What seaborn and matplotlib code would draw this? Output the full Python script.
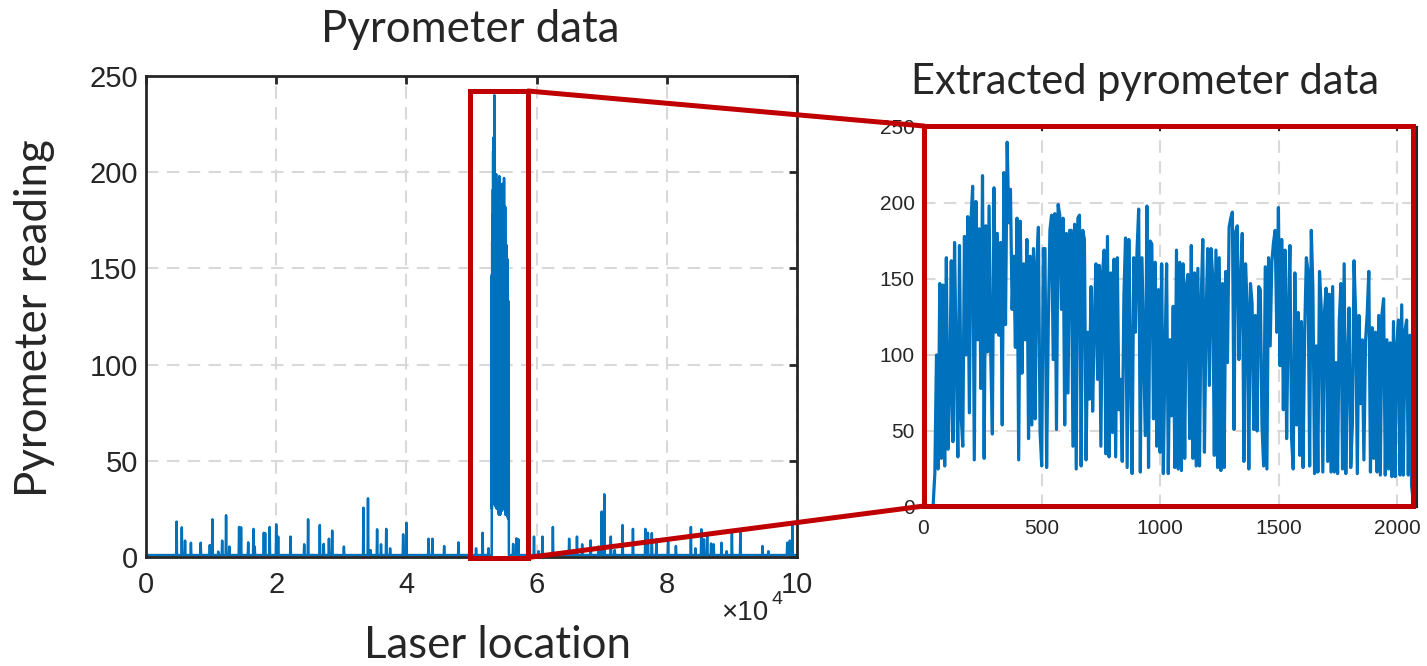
import numpy as np
import pandas as pd
import seaborn as sns
import matplotlib
matplotlib.use("Agg")
import matplotlib.pyplot as plt
from matplotlib.patches import Rectangle
from matplotlib.lines import Line2D

# ---------------- data ----------------
# isolated pyrometer spikes outside the melt region (laser location, reading)
spike_pos = [4700, 5500, 6000, 6900, 8400, 9800, 10200, 11100, 11700, 12300, 12800,
             14300, 14600, 15700, 16500, 16700, 18100, 18300, 19000, 20000, 20300,
             22200, 24300, 24900, 26700, 27300, 28100, 28600, 30400, 33400, 34100,
             34500, 35500, 36100, 36900, 37500, 39500, 40000, 43400, 44000, 45800,
             48000, 50700, 51700, 52600, 56400, 56900, 57200, 59600, 60300, 60900,
             62500, 65000, 66200, 67000, 68300, 69500, 70000, 70400, 71400, 72000,
             73200, 74800, 76700, 77100, 77700, 78400, 80200, 81400, 83700, 84400,
             85300, 85700, 86200, 86800, 87200, 88400, 89200, 90000, 91300, 94700,
             95600, 98500, 98900, 99300]
spike_val = [18.4, 15.4, 8.5, 7.4, 7.4, 6.2, 19.6, 2.8, 8.5, 21.7, 5.4,
             15.6, 15.4, 7.6, 14.6, 5.4, 12.6, 12.4, 15.6, 17.0, 10.6,
             10.6, 6.6, 19.6, 16.6, 6.8, 9.5, 13.7, 5.4, 25.6, 30.5,
             3.6, 14.4, 6.6, 14.6, 4.5, 11.8, 17.8, 9.5, 9.5, 5.7,
             7.6, 4.5, 12.6, 4.5, 6.8, 9.7, 9.2, 10.6, 3.0, 10.6,
             15.6, 9.5, 10.6, 6.6, 8.6, 5.4, 23.6, 32.6, 10.6, 3.6,
             16.6, 14.6, 14.6, 12.6, 12.4, 9.2, 8.0, 5.7, 15.6, 4.5,
             14.4, 9.2, 12.4, 7.0, 6.6, 7.4, 3.0, 12.4, 12.8, 5.7,
             3.0, 7.4, 8.5, 16.6]
baseline_val = 1.0

# extracted melt-region readings
extracted_val = [
    2, 22, 100, 25, 147, 32, 146, 27, 164, 38, 73, 162, 43, 174, 95, 33, 172, 60, 40, 178,
    100, 191, 62, 189, 211, 31, 201, 110, 183, 78, 218, 32, 185, 102, 198, 100, 48, 210, 115, 180,
    113, 174, 54, 220, 120, 240, 187, 209, 130, 165, 105, 190, 31, 188, 88, 160, 110, 176, 45, 165,
    54, 170, 58, 160, 184, 50, 27, 170,
    170, 26, 119, 182, 192, 97, 193, 51, 199, 192, 130, 190, 54, 180, 75, 182, 182, 40, 186, 25,
    190, 192, 27, 182, 176, 31, 115, 71, 145, 63, 123, 160, 84, 159, 40, 154, 169, 35, 178, 33,
    154, 49, 163, 33, 164, 64, 84, 30, 139, 177, 26, 176, 93, 22, 164, 115, 169, 196, 23, 164,
    107, 47, 198, 26, 175, 173, 58, 161, 40, 143, 36, 160, 22, 100,
    160, 22, 110, 60, 132, 26, 169, 25, 161, 24, 160, 32, 146, 153, 45, 172, 32, 154, 27, 157,
    27, 135, 176, 36, 126, 170, 80, 170, 152, 34, 169, 26, 164, 24, 147, 26, 155, 95, 184, 190,
    194, 51, 181, 185, 97, 147, 180, 30, 160, 132, 25, 147, 134, 51, 126, 50, 145, 143, 54, 27,
    158, 25, 164, 106, 161, 174, 182, 115, 197, 93, 176, 64, 169, 45, 128,
    172, 45, 25, 154, 54, 128, 34, 122, 26, 116, 164, 155, 27, 182, 143, 22, 106, 23, 155, 132,
    23, 128, 144, 30, 140, 23, 145, 23, 95, 22, 122, 147, 25, 160, 22, 95, 131, 26, 54, 162,
    127, 22, 126, 68, 110, 31, 109, 127, 155, 23, 118, 32, 115, 23, 126, 21, 127, 137, 21, 110,
    25, 108, 20, 122, 20, 106, 123, 21, 133, 21, 116, 123, 21, 113, 14, 4]
sample_first, sample_last = 43, 2068          # sample index range of the extracted data
burst_offset, burst_scale = 53050, 1.3        # where the extracted samples sit on the laser axis

left_xticks = [0, 20000, 40000, 60000, 80000, 100000]
left_xticklabels = ["0", "2", "4", "6", "8", "10"]
left_yticks = [0, 50, 100, 150, 200, 250]
right_xticks = [0, 500, 1000, 1500, 2000]
right_yticks = [0, 50, 100, 150, 200, 250]

# ---------------- build series ----------------
n = len(extracted_val)
sample_idx = np.linspace(sample_first, sample_last, n)
right_df = pd.DataFrame({"sample": sample_idx, "reading": extracted_val})

half_w = 60.0
lx, ly = [0.0, 100000.0], [baseline_val, baseline_val]
for p, h in zip(spike_pos, spike_val):
    lx += [p - half_w, p, p + half_w]
    ly += [baseline_val, h, baseline_val]
burst_x = burst_offset + sample_idx * burst_scale
lx += [burst_x[0] - 1] + list(burst_x) + [burst_x[-1] + 1]
ly += [baseline_val] + list(extracted_val) + [baseline_val]
left_df = pd.DataFrame({"loc": lx, "reading": ly}).sort_values("loc")

# ---------------- style ----------------
sns.set_style("white")
plt.rcParams["font.family"] = ["Liberation Sans", "DejaVu Sans"]
blue = "#0072BD"
red = "#C00000"
dark = "#262626"
grid_kw = dict(color="#d9d9d9", linestyle=(0, (6, 4)), linewidth=1.5)

W, H = 1427, 666
fig = plt.figure(figsize=(W / 100, H / 100), dpi=100)

def fx(px):
    return px / W

def fy(py):
    return 1 - py / H

axL = fig.add_axes([fx(146), fy(557), fx(797) - fx(146), fy(76) - fy(557)])
axR = fig.add_axes([fx(923), fy(507), fx(1417) - fx(923), fy(127) - fy(507)])

sns.lineplot(data=left_df, x="loc", y="reading", ax=axL, color=blue, linewidth=1.8,
             estimator=None, sort=False)
sns.lineplot(data=right_df, x="sample", y="reading", ax=axR, color=blue, linewidth=2.3,
             estimator=None, sort=False)

for ax in (axL, axR):
    ax.set_axisbelow(True)
    ax.grid(True, **grid_kw)
    ax.set_xlabel("")
    ax.set_ylabel("")

axL.set_xlim(0, 100000)
axL.set_ylim(0, 250)
axL.set_xticks(left_xticks)
axL.set_xticklabels(left_xticklabels)
axL.set_yticks(left_yticks)
axL.tick_params(direction="in", length=6, width=2, top=True, right=True,
                labelsize=21, colors=dark, labelcolor=dark)
axL.tick_params(axis="x", pad=10)
axL.tick_params(axis="y", pad=6)
for s in axL.spines.values():
    s.set_linewidth(2)
    s.set_color(dark)

axR.set_xlim(0, 2084)
axR.set_ylim(0, 250)
axR.set_xticks(right_xticks)
axR.set_yticks(right_yticks)
axR.tick_params(direction="in", length=3, width=1.5, top=True, right=True,
                labelsize=15, colors=dark, labelcolor=dark)
axR.tick_params(axis="x", pad=9)
axR.tick_params(axis="y", pad=6)
for s in axR.spines.values():
    s.set_linewidth(1.5)
    s.set_color(dark)

# ---------------- labels ----------------
tfont = ["Lato", "DejaVu Sans"]
fig.text(fx(470), fy(30), "Pyrometer data", ha="center", va="center", fontsize=31.5, family=tfont)
fig.text(fx(1145), fy(82), "Extracted pyrometer data", ha="center", va="center", fontsize=30, family=tfont)
fig.text(fx(498), fy(645), "Laser location", ha="center", va="center", fontsize=31.5, family=tfont)
fig.text(fx(35), fy(318), "Pyrometer reading", ha="center", va="center", rotation=90, fontsize=31.5, family=tfont)
fig.text(fx(721), fy(613), "\u00d710", ha="left", va="center", fontsize=20, color=dark)
fig.text(fx(771), fy(599), "4", ha="left", va="center", fontsize=14, color=dark)

# ---------------- zoom annotation ----------------
lw = 3.6
fig.add_artist(Rectangle((fx(470), fy(557.5)), fx(528) - fx(470), fy(91) - fy(557.5),
                         transform=fig.transFigure, fill=False, edgecolor=red, linewidth=lw, zorder=10))
fig.add_artist(Rectangle((fx(924), fy(506)), fx(1413) - fx(924), fy(126) - fy(506),
                         transform=fig.transFigure, fill=False, edgecolor=red, linewidth=lw, zorder=10))
fig.add_artist(Line2D([fx(528), fx(924)], [fy(91), fy(126)], transform=fig.transFigure,
                      color=red, linewidth=lw, zorder=10))
fig.add_artist(Line2D([fx(528), fx(924)], [fy(557.5), fy(506)], transform=fig.transFigure,
                      color=red, linewidth=lw, zorder=10))

fig.savefig("out.png", dpi=100)
